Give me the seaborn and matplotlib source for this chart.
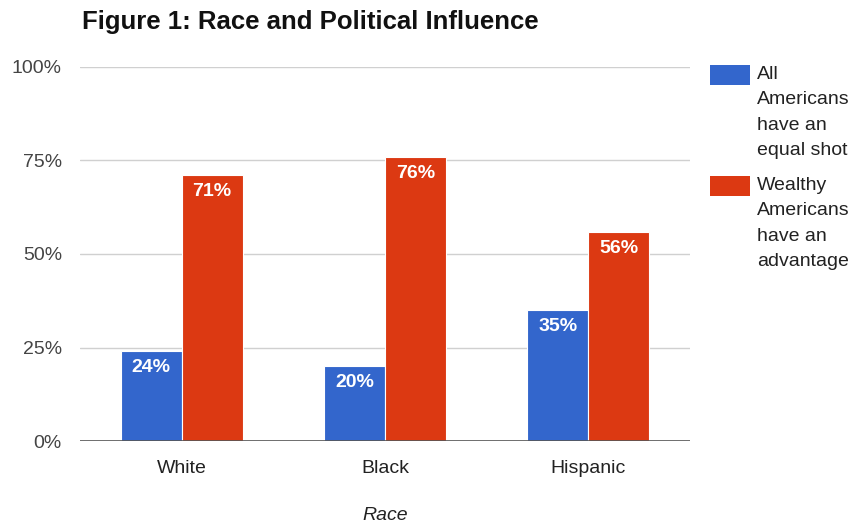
import matplotlib

matplotlib.use("Agg")
import matplotlib.pyplot as plt
import pandas as pd
import seaborn as sns
from matplotlib.patches import Rectangle

races = ["White", "Black", "Hispanic"]
equal_shot = [24, 20, 35]
wealthy_adv = [71, 76, 56]
series_names = [
    "All\nAmericans\nhave an\nequal shot",
    "Wealthy\nAmericans\nhave an\nadvantage",
]
y_ticks = [0, 25, 50, 75, 100]

df = pd.DataFrame(
    {
        "Race": races * 2,
        "Share": equal_shot + wealthy_adv,
        "Opinion": [series_names[0]] * len(races) + [series_names[1]] * len(races),
    }
)

sns.set_theme(style="white")
plt.rcParams["font.family"] = ["Liberation Sans", "DejaVu Sans"]

W, H = 852, 527
fig = plt.figure(figsize=(W / 100, H / 100), dpi=100, facecolor="w")
ax = fig.add_axes([80 / W, 1 - 441 / H, 610 / W, 374 / H])

palette = ["#3366CC", "#DC3912"]
sns.barplot(
    data=df,
    x="Race",
    y="Share",
    hue="Opinion",
    palette=palette,
    width=0.6,
    edgecolor="white",
    linewidth=0.8,
    saturation=1,
    legend=False,
    ax=ax,
    zorder=3,
)

# value labels inside the top of each bar
for container in ax.containers:
    ax.bar_label(
        container,
        labels=[f"{v:.0f}%" for v in container.datavalues],
        padding=-18,
        color="white",
        fontsize=14,
        fontweight="bold",
    )

ax.set_ylim(0, 100)
ax.set_xlim(-0.5, 2.5)
ax.set_yticks(y_ticks)
ax.set_yticklabels([f"{t}%" for t in y_ticks], fontsize=14, color="#444444")
ax.tick_params(axis="x", labelsize=14, colors="#222222", length=0, pad=14)
ax.tick_params(axis="y", length=0, pad=13)
for t in y_ticks[1:]:
    ax.axhline(t, color="#d0d0d0", linewidth=1, zorder=1)
ax.axhline(0, color="#555555", linewidth=1.2, zorder=4)
for side in ["top", "right", "left", "bottom"]:
    ax.spines[side].set_visible(False)

ax.set_xlabel("Race", fontsize=14, fontstyle="italic", color="#222222", labelpad=21)
ax.set_ylabel("")

fig.text(
    82 / W, 1 - 10 / H, "Figure 1: Race and Political Influence",
    fontsize=18.5, fontweight="bold", ha="left", va="top", color="#111111",
)

# legend drawn by hand so the wrapped labels keep their line spacing
for name, color, top in zip(series_names, palette, [65, 176]):
    fig.patches.append(
        Rectangle(
            (710 / W, 1 - (top + 20) / H), 40 / W, 20 / H,
            transform=fig.transFigure, facecolor=color, edgecolor="none",
        )
    )
    fig.text(
        757 / W, 1 - (top + 1) / H, name,
        fontsize=14, ha="left", va="top", color="#222222", linespacing=1.65,
    )

fig.savefig("out.png", dpi=100)
